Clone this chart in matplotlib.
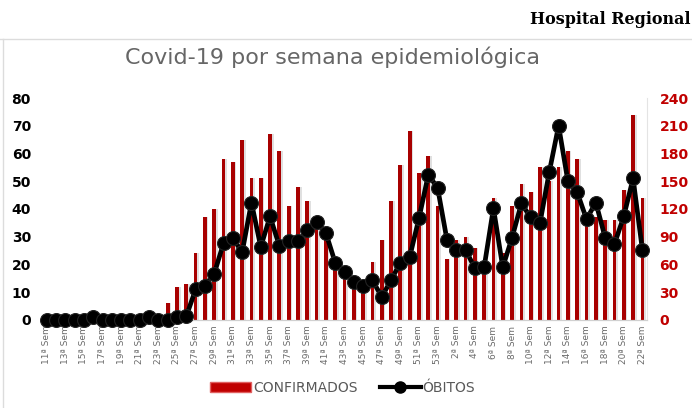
import matplotlib.pyplot as plt
from matplotlib.lines import Line2D
from matplotlib.patches import Patch
import numpy as np

# epidemiological weeks: 11..53 of 2020, then 1..22 of 2021
weeks = list(range(11, 54)) + list(range(1, 23))

confirmados = [0, 0, 0, 0, 0, 0, 0, 0, 0, 0,
               2, 0, 0, 6, 12, 13, 24, 37, 40, 58,
               57, 65, 51, 51, 67, 61, 41, 48, 43, 34,
               29, 19, 16, 13, 12, 21, 29, 43, 56, 68,
               53, 59, 41, 22, 29, 30, 26, 18, 44, 24,
               41, 49, 46, 55, 50, 55, 61, 58, 36, 37,
               36, 36, 47, 74, 44]

obitos = [0, 0, 0, 0, 0, 3, 0, 0, 0, 0,
          0, 3, 0, 0, 3, 4, 33, 37, 50, 83,
          89, 73, 127, 79, 112, 80, 85, 85, 97, 106,
          94, 62, 52, 41, 37, 43, 25, 43, 62, 68,
          110, 157, 143, 87, 76, 76, 56, 57, 121, 57,
          89, 126, 111, 105, 160, 210, 150, 138, 109, 127,
          89, 82, 112, 153, 76]

tick_labels = [f"{w}ª Sem" for w in weeks]

bar_red = "#a80000"
axis_red = "#c00000"
gray_txt = "#595959"


def main():
    fig = plt.figure(figsize=(6.92, 4.08), dpi=100)
    ax = fig.add_axes([0.0607, 0.2157, 0.8743, 0.5441])
    ax2 = ax.twinx()

    x = np.arange(len(weeks))

    # soft shadow behind the bars, then the bars
    ax.bar(x + 0.17, confirmados, width=0.42, color="#e0e0e0", zorder=1)
    ax.bar(x, confirmados, width=0.4, color=bar_red, zorder=2)

    ax2.plot(x, obitos, color="black", lw=3.4, marker="o", ms=10,
             mfc="black", mec="#222222", mew=0.8, clip_on=False, zorder=5)

    ax.set_xlim(-0.5, len(weeks) - 0.5)
    ax.set_ylim(0, 80)
    ax2.set_ylim(0, 240)
    ax.set_yticks(range(0, 81, 10))
    ax2.set_yticks(range(0, 241, 30))

    ax.set_xticks(x[::2])
    ax.set_xticklabels(tick_labels[::2], rotation=90, fontsize=6.5, color="#6a6a6a")
    ax.tick_params(axis="x", length=0, pad=4)
    ax.tick_params(axis="y", length=0, pad=8)
    ax2.tick_params(axis="y", length=0, pad=9)
    for t in ax.get_yticklabels():
        t.set_fontweight("bold")
        t.set_fontsize(10)
    for t in ax2.get_yticklabels():
        t.set_fontweight("bold")
        t.set_fontsize(10)
        t.set_color(axis_red)

    for a in (ax, ax2):
        for side in ("top", "left", "right"):
            a.spines[side].set_visible(False)
        a.spines["bottom"].set_color("#d0d0d0")
    ax2.spines["right"].set_visible(True)
    ax2.spines["right"].set_color("#e4e4e4")

    fig.text(0.48, 0.86, "Covid-19 por semana epidemiológica", ha="center",
             va="center", fontsize=16, color="#666666")
    fig.text(0.998, 0.952, "Hospital Regional", ha="right", va="center",
             fontsize=11.5, fontweight="bold", family="DejaVu Serif")

    # frame lines of the card
    fig.add_artist(Line2D([0, 1], [0.905, 0.905], color="#dcdcdc", lw=1))
    fig.add_artist(Line2D([0.005, 0.005], [0, 0.905], color="#dcdcdc", lw=1))

    handles = [
        Patch(facecolor="#c00000", edgecolor="#e06060"),
        Line2D([], [], color="black", lw=3, marker="o", ms=8, mfc="black"),
    ]
    fig.legend(handles, ["CONFIRMADOS", "ÓBITOS"], loc="center",
               bbox_to_anchor=(0.495, 0.05), ncol=2, frameon=False,
               fontsize=10, labelcolor=gray_txt, handlelength=3.0,
               handletextpad=0.1, columnspacing=1.6)

    fig.savefig("out.png", dpi=100)


if __name__ == '__main__':
    main()
